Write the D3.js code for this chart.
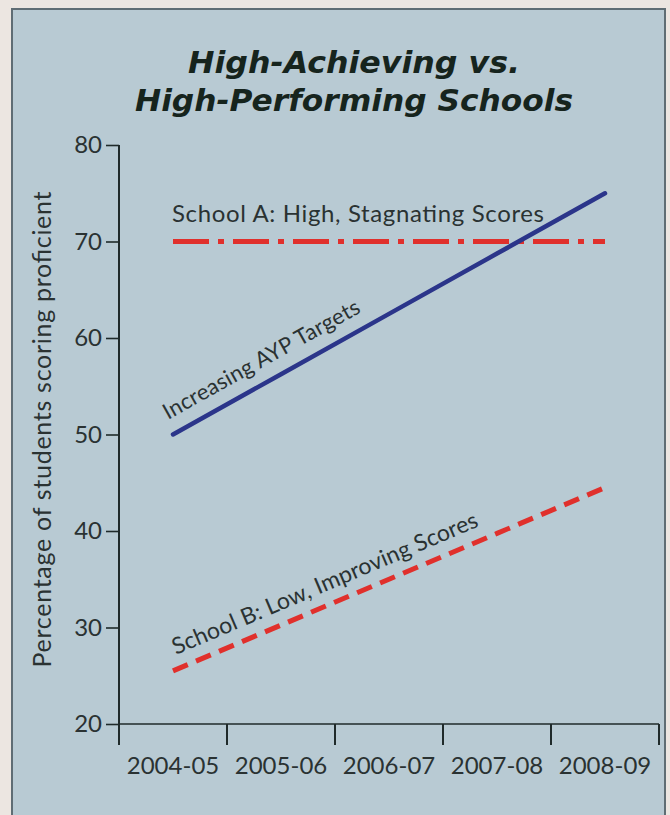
<!DOCTYPE html>
<html>
<head>
<meta charset="utf-8">
<script src="https://cdn.jsdelivr.net/npm/d3@7"></script>
<style>
  html, body { margin: 0; padding: 0; background: #ece6e1; }
  svg { display: block; }
</style>
</head>
<body>
<div id="chart"></div>
<script>
// chart values
var years = ['2004-05', '2005-06', '2006-07', '2007-08', '2008-09'];
var aypTargets = [50, 56.25, 62.5, 68.75, 75];
var schoolA = [70, 70, 70, 70, 70];
var schoolB = [25.5, 30.25, 35, 39.75, 44.5];
var yTicks = [20, 30, 40, 50, 60, 70, 80];
var titleLines = ['High-Achieving vs.', 'High-Performing Schools'];

var width = 670, height = 815;
var font = 'Lato, "Noto Sans", sans-serif';
var titleFont = '"DejaVu Sans", Lato, sans-serif';
var textColor = '#2a3232';
var axisColor = '#1f2a2a';

var svg = d3.select('#chart')
    .append('svg')
    .attr('width', width)
    .attr('height', height);

// panel
svg.append('rect')
    .attr('x', 12)
    .attr('y', 9)
    .attr('width', 653)
    .attr('height', 830)
    .attr('fill', '#b8cad3')
    .attr('stroke', '#5f6d74')
    .attr('stroke-width', 2);

// title
var titleWidths = [332, 438];
svg.selectAll('.title')
    .data(titleLines)
    .enter()
    .append('text')
    .attr('class', 'title')
    .attr('x', 354)
    .attr('y', function (d, i) { return 73 + i * 38; })
    .attr('text-anchor', 'middle')
    .attr('textLength', function (d, i) { return titleWidths[i]; })
    .attr('lengthAdjust', 'spacingAndGlyphs')
    .style('font-family', titleFont)
    .style('font-weight', 'bold')
    .style('font-style', 'italic')
    .style('font-size', '30px')
    .style('fill', '#16241d')
    .text(function (d) { return d; });

var x = d3.scaleBand()
    .domain(years)
    .range([119, 659])
    .padding(0);

var y = d3.scaleLinear()
    .domain([20, 80])
    .range([724, 145]);

function cx(d, i) { return x(years[i]) + x.bandwidth() / 2; }

// y axis
var yAxis = svg.append('g')
    .attr('transform', 'translate(119,0)')
    .call(d3.axisLeft(y).tickValues(yTicks).tickSize(13).tickSizeOuter(0).tickPadding(4));
yAxis.select('.domain').remove();
yAxis.selectAll('line').attr('stroke', axisColor).attr('stroke-width', 1.6);
yAxis.selectAll('text')
    .style('font-family', font)
    .style('font-size', '24px')
    .style('fill', textColor);

svg.append('line')
    .attr('x1', 119).attr('x2', 119)
    .attr('y1', y(80)).attr('y2', 745)
    .attr('stroke', axisColor)
    .attr('stroke-width', 2);

// x axis
var xAxis = svg.append('g')
    .attr('transform', 'translate(0,' + y(20) + ')')
    .call(d3.axisBottom(x).tickSize(0).tickPadding(33));
xAxis.select('.domain').remove();
xAxis.selectAll('text')
    .style('font-family', font)
    .style('font-size', '24px')
    .style('fill', textColor);

svg.append('line')
    .attr('x1', 119).attr('x2', 659)
    .attr('y1', y(20)).attr('y2', y(20))
    .attr('stroke', axisColor)
    .attr('stroke-width', 1.6);

// band edge ticks
var edges = years.map(function (d) { return x(d) + x.bandwidth(); });
svg.selectAll('.edge')
    .data(edges)
    .enter()
    .append('line')
    .attr('class', 'edge')
    .attr('x1', function (d) { return d; })
    .attr('x2', function (d) { return d; })
    .attr('y1', y(20))
    .attr('y2', 745)
    .attr('stroke', axisColor)
    .attr('stroke-width', 2);

// axis title
svg.append('text')
    .attr('transform', 'translate(51,' + ((y(20) + y(80)) / 2 - 5) + ') rotate(-90)')
    .attr('text-anchor', 'middle')
    .attr('textLength', 476)
    .attr('lengthAdjust', 'spacing')
    .style('font-family', font)
    .style('font-size', '25px')
    .style('fill', textColor)
    .text('Percentage of students scoring proficient');

var line = d3.line()
    .x(cx)
    .y(function (d) { return y(d); });

// lines
svg.append('path')
    .datum(schoolA)
    .attr('d', line)
    .attr('fill', 'none')
    .attr('stroke', '#e0302c')
    .attr('stroke-width', 5)
    .attr('stroke-dasharray', '36,9,6,9');

svg.append('path')
    .datum(aypTargets)
    .attr('d', line)
    .attr('fill', 'none')
    .attr('stroke', '#2b358a')
    .attr('stroke-width', 4.5)
    .attr('stroke-linecap', 'round');

svg.append('path')
    .datum(schoolB)
    .attr('d', line)
    .attr('fill', 'none')
    .attr('stroke', '#e0302c')
    .attr('stroke-width', 5)
    .attr('stroke-dasharray', '16,9');

// line labels
function slopeAngle(vals) {
    var n = vals.length - 1;
    return Math.atan2(y(vals[n]) - y(vals[0]), cx(null, n) - cx(null, 0)) * 180 / Math.PI;
}

svg.append('text')
    .attr('x', 172)
    .attr('y', 222)
    .attr('textLength', 372)
    .attr('lengthAdjust', 'spacing')
    .style('font-family', font)
    .style('font-size', '24px')
    .style('fill', textColor)
    .text('School A: High, Stagnating Scores');

svg.append('text')
    .attr('transform', 'translate(168,420) rotate(' + slopeAngle(aypTargets) + ')')
    .attr('textLength', 222)
    .attr('lengthAdjust', 'spacing')
    .style('font-family', font)
    .style('font-size', '22px')
    .style('fill', textColor)
    .text('Increasing AYP Targets');

svg.append('text')
    .attr('transform', 'translate(176,655) rotate(' + slopeAngle(schoolB) + ')')
    .attr('textLength', 330)
    .attr('lengthAdjust', 'spacing')
    .style('font-family', font)
    .style('font-size', '23px')
    .style('fill', textColor)
    .text('School B: Low, Improving Scores');
</script>
</body>
</html>
